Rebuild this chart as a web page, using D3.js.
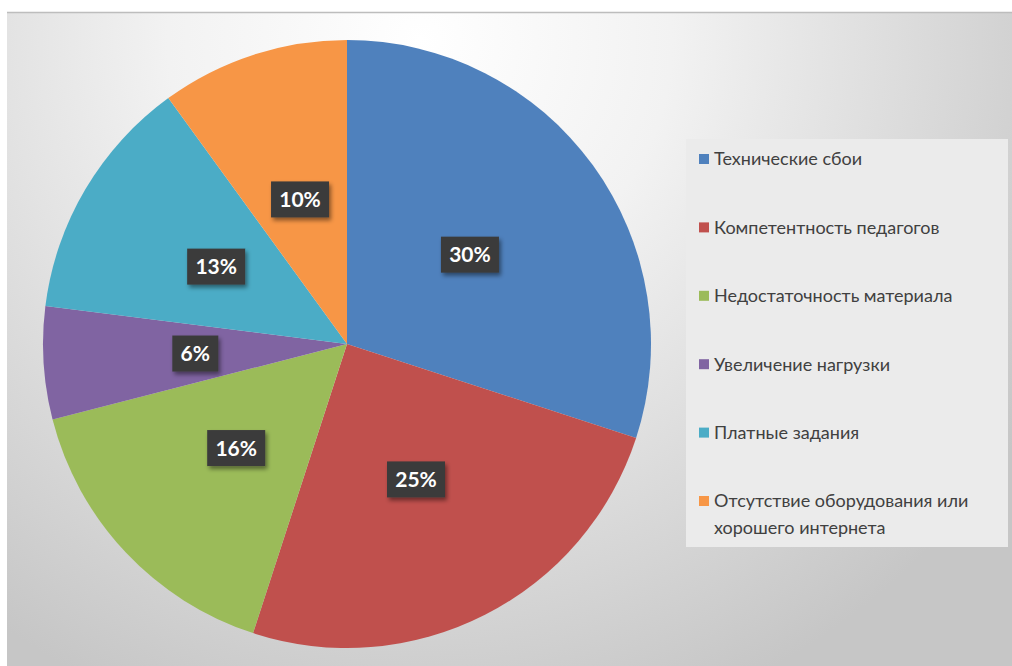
<!DOCTYPE html>
<html>
<head>
<meta charset="utf-8">
<script src="https://cdn.jsdelivr.net/npm/d3@7"></script>
<style>
  body { margin: 0; background: #fff; }
</style>
</head>
<body>
<div id="chart"></div>
<script>
// Pie chart of reported problems with distance learning
const categories = ["Технические сбои", "Компетентность педагогов", "Недостаточность материала",
  "Увеличение нагрузки", "Платные задания", "Отсутствие оборудования или\nхорошего интернета"];
const values = [30, 25, 16, 6, 13, 10];
const colors = ["#4f81bd", "#c0504d", "#9bbb59", "#8064a2", "#4bacc6", "#f79646"];

let width = 1012, height = 666;

let svg = d3.select("#chart")
    .append("svg")
    .attr("width", width)
    .attr("height", height);

let defs = svg.append("defs");
let grad = defs.append("radialGradient")
    .attr("id", "bg")
    .attr("gradientUnits", "userSpaceOnUse")
    .attr("cx", 420).attr("cy", 40).attr("r", 720);
grad.append("stop").attr("offset", "0").attr("stop-color", "#ffffff");
grad.append("stop").attr("offset", "0.35").attr("stop-color", "#f2f2f2");
grad.append("stop").attr("offset", "1").attr("stop-color", "#c6c6c6");

let shadow = defs.append("filter").attr("id", "sh")
    .attr("x", "-20%").attr("y", "-20%").attr("width", "150%").attr("height", "160%");
shadow.append("feDropShadow")
    .attr("dx", 2).attr("dy", 3).attr("stdDeviation", 2)
    .attr("flood-color", "#000").attr("flood-opacity", 0.45);

// chart area
svg.append("rect")
    .attr("x", 7).attr("y", 12)
    .attr("width", width - 7).attr("height", height - 12)
    .attr("fill", "url(#bg)");
svg.append("line")
    .attr("x1", 7).attr("x2", width).attr("y1", 12.5).attr("y2", 12.5)
    .attr("stroke", "#bdbdbd").attr("stroke-width", 1.5);

// pie
let cx = 347, cy = 344, radius = 304;
let pie = d3.pie().sort(null).value(d => d);
let arcs = pie(values);
let arc = d3.arc().innerRadius(0).outerRadius(radius);
let labelArc = d3.arc().innerRadius(radius * 0.5).outerRadius(radius * 0.5);

let g = svg.append("g").attr("transform", "translate(" + cx + "," + cy + ")");
g.selectAll("path.slice")
    .data(arcs)
    .enter()
    .append("path")
    .attr("class", "slice")
    .attr("d", arc)
    .attr("fill", (d, i) => colors[i]);

// data labels
let labels = g.selectAll("g.lbl")
    .data(arcs)
    .enter()
    .append("g")
    .attr("class", "lbl")
    .attr("transform", d => "translate(" + labelArc.centroid(d) + ")");
labels.append("rect")
    .attr("x", d => d.data >= 10 ? -29 : -23)
    .attr("y", -18)
    .attr("width", d => d.data >= 10 ? 58 : 46)
    .attr("height", 36)
    .attr("fill", "#3b3b3b")
    .attr("filter", "url(#sh)");
labels.append("text")
    .attr("text-anchor", "middle")
    .attr("dy", "0.36em")
    .attr("fill", "#fff")
    .style("font-family", "Lato, 'Open Sans', sans-serif")
    .style("font-weight", "bold")
    .style("font-size", "21px")
    .text(d => d.data + "%");

// legend
svg.append("rect")
    .attr("x", 686).attr("y", 139)
    .attr("width", 322).attr("height", 408)
    .attr("fill", "#ebebeb");

let itemY = d3.scalePoint()
    .domain(d3.range(categories.length))
    .range([159, 501]);

let legend = svg.selectAll("g.leg")
    .data(categories)
    .enter()
    .append("g")
    .attr("class", "leg")
    .attr("transform", (d, i) => "translate(699," + itemY(i) + ")");
legend.append("rect")
    .attr("x", 0).attr("y", -5)
    .attr("width", 10).attr("height", 10)
    .attr("fill", (d, i) => colors[i]);
legend.append("text")
    .attr("x", 15)
    .attr("fill", "#404040")
    .style("font-family", "Lato, 'Open Sans', sans-serif")
    .style("font-size", "18px")
    .selectAll("tspan")
    .data(d => d.split("\n"))
    .enter()
    .append("tspan")
    .attr("x", 15)
    .attr("dy", (d, i) => i === 0 ? "0.35em" : "1.5em")
    .text(d => d);
</script>
</body>
</html>
